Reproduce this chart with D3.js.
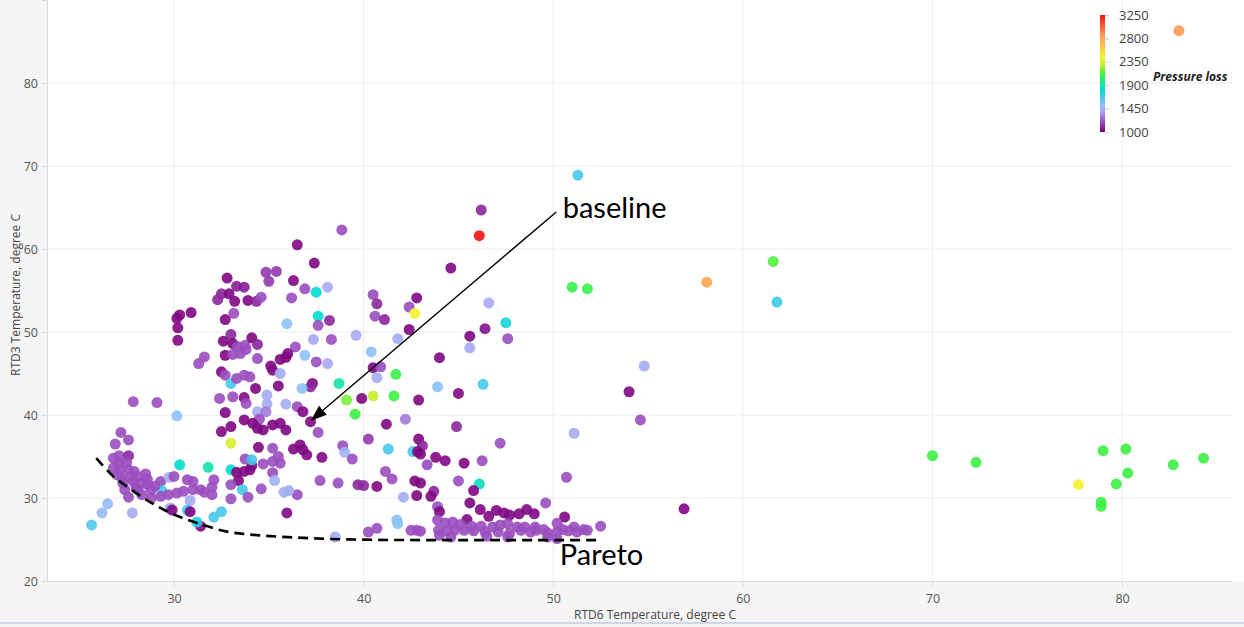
<!DOCTYPE html>
<html><head><meta charset="utf-8">
<script src="https://cdn.jsdelivr.net/npm/d3@7"></script>
<style>html,body{margin:0;padding:0;background:#fff;overflow:hidden}</style>
</head><body><svg id="chart" width="1244" height="627"></svg>
<script>
// ---------- data ----------
const xTicks = [30, 40, 50, 60, 70, 80];
const yTicks = [20, 30, 40, 50, 60, 70, 80];
const colorTicks = [1000, 1450, 1900, 2350, 2800, 3250];
const colorStops = [1000, 1200, 1400, 1520, 1680, 1820, 1950, 2120, 2300, 2450, 2850, 3250];
const colorRange = ["#7b007b", "#9a4ebf", "#a9a8f2", "#8cc2f7", "#45c9ea", "#00dccf", "#22e68f", "#3df042", "#c8f02e", "#f6f032", "#ff9a55", "#ee1515"];
const xTitle = "RTD6 Temperature, degree C";
const yTitle = "RTD3 Temperature, degree C";
const legendTitle = "Pressure loss";

// [RTD6 temperature, RTD3 temperature, pressure loss]
const samples = [
[83.0,86.3,2850],[58.1,56.0,2800],[61.6,58.5,2150],[61.8,53.6,1700],[51.0,55.4,2100],[51.8,55.2,2100],[51.3,68.9,1680],
[46.2,64.7,1100],[46.1,61.6,3250],[44.6,57.7,1020],[38.85,62.3,1200],[36.5,60.5,1020],[37.4,58.3,1020],[54.0,42.8,1020],
[54.6,39.4,1200],[54.8,45.9,1420],[51.1,37.8,1400],[50.7,32.5,1200],[49.6,29.4,1200],[56.9,28.7,1020],[52.5,26.6,1200],
[70.0,35.1,2120],[72.3,34.3,2120],[79.0,35.7,2120],[80.2,35.9,2120],[80.3,33.0,2120],[79.7,31.7,2120],[78.9,29.5,2120],
[78.9,29.0,2120],[82.7,34.0,2120],[84.3,34.8,2120],[77.7,31.6,2450],
[36.9,55.2,1200],[37.5,54.8,1820],[38.1,55.4,1400],[40.5,54.5,1200],[40.7,53.4,1100],[42.8,54.1,1020],[42.4,53.0,1200],
[42.7,52.25,2450],[46.6,53.5,1400],[40.6,51.9,1200],[41.1,51.5,1100],[37.6,51.9,1820],[37.6,50.8,1200],[38.2,51.4,1100],
[47.5,51.1,1780],[42.4,50.3,1020],[46.4,50.4,1050],[45.6,49.5,1020],[47.6,49.2,1200],[45.6,48.1,1400],[37.35,49.1,1400],
[38.3,49.1,1200],[39.6,49.6,1400],[41.8,49.2,1420],[36.9,47.2,1520],[37.5,46.4,1200],[38.1,46.2,1400],[40.4,47.6,1520],
[44.0,46.9,1020],[40.5,45.7,1020],[40.9,45.8,1200],[40.7,44.5,1420],[41.7,44.9,2100],[38.7,43.8,1900],[37.3,43.8,1020],
[37.2,43.4,1100],[43.9,43.4,1520],[46.3,43.7,1680],[45.0,42.6,1020],[36.75,43.2,1520],[40.5,42.3,2300],[41.6,42.3,2120],
[42.9,41.8,1020],[39.9,42.0,1020],[39.1,41.8,2200],[39.55,40.1,2120],[41.2,38.9,1020],[42.2,39.5,1300],[44.9,38.6,1100],
[40.25,37.1,1150],[38.9,36.3,1200],[39.0,35.5,1450],[39.4,34.7,1200],[41.3,35.9,1680],[42.6,35.6,1680],[42.9,37.1,1020],
[43.1,36.3,1100],[42.85,35.6,1020],[43.0,35.3,1020],[47.2,36.6,1200],[43.8,34.9,1020],[44.3,34.5,1020],[43.35,34.0,1200],
[45.3,34.2,1020],[46.25,34.5,1200],[41.15,33.2,1200],[41.5,32.3,1200],[38.65,31.8,1200],[39.7,31.6,1100],[40.0,31.5,1100],
[40.7,31.4,1020],[42.7,32.05,1020],[43.0,31.8,1020],[45.0,32.05,1200],[46.1,31.7,1850],[45.8,30.9,1020],[43.7,30.8,1100],
[43.55,30.2,1020],[42.8,30.3,1020],[42.1,30.1,1420],[45.6,29.4,1020],[43.9,28.95,1200],
[37.6,37.9,1200],[37.2,39.2,1020],[37.8,34.9,1020],[37.0,35.2,1020],[36.65,36.4,1020],[36.8,35.8,1020],[37.7,32.1,1200],
[36.5,30.4,1200],[41.75,27.35,1520],[41.8,26.9,1520],[40.25,25.9,1200],[40.7,26.35,1200],[42.5,26.1,1200],[42.8,26.1,1200],
[43.0,26.0,1200],[38.5,25.3,1420],
[44.0,28.35,1020],[46.15,28.6,1020],[46.6,27.8,1020],[47.0,28.5,1020],[47.4,28.2,1020],[47.7,27.95,1020],[48.2,28.1,1020],
[48.6,28.6,1020],[49.0,28.1,1020],[45.45,27.4,1020],[50.6,27.7,1020],
[43.9,27.35,1200],[44.3,27.0,1200],[44.7,27.1,1200],[45.1,26.8,1200],[45.7,26.6,1200],[46.2,26.6,1200],[46.8,26.5,1200],
[47.2,26.75,1200],[47.6,26.9,1200],[48.1,26.5,1200],[48.5,26.5,1200],[49.05,26.5,1200],[49.5,26.2,1200],[50.2,26.95,1200],
[50.5,26.2,1200],[51.1,26.5,1200],[51.6,26.2,1200],
[43.95,26.1,1200],[44.4,26.05,1200],[44.8,26.1,1200],[45.3,26.1,1200],[45.8,26.05,1200],[46.4,25.9,1200],[47.1,25.9,1200],
[47.7,25.75,1200],[48.3,26.1,1200],[48.8,25.9,1200],[49.1,26.1,1200],[49.7,25.8,1200],[50.2,25.9,1200],[50.8,26.05,1200],
[51.25,25.9,1200],[51.8,26.1,1200],
[44.0,25.5,1200],[44.6,25.3,1200],[46.5,25.4,1200],[47.6,25.3,1200],[49.7,25.3,1200],[50.2,25.1,1200],[35.95,28.2,1020],
[34.85,57.2,1150],[35.4,57.3,1150],[35.0,56.1,1150],[36.3,56.2,1020],[32.8,56.5,1020],[33.3,55.5,1080],[33.7,55.4,1080],
[32.5,54.6,1100],[32.9,54.6,1020],[32.3,53.9,1100],[33.2,53.7,1020],[33.9,53.8,1020],[34.35,53.7,1100],[34.6,54.2,1200],
[33.15,52.25,1200],[32.7,51.5,1020],[30.9,52.35,1020],[30.3,52.05,1020],[30.15,51.65,1020],[30.2,50.5,1020],[30.2,49.0,1020],
[36.2,54.1,1200],[35.95,51.0,1520],[33.0,49.7,1100],[32.6,48.9,1020],[33.1,48.6,1020],[33.35,48.25,1200],[33.75,48.4,1200],
[34.1,49.3,1020],[34.4,48.5,1100],[32.7,47.2,1020],[33.1,47.3,1200],[33.5,47.4,1200],[33.8,47.9,1200],[34.4,46.8,1200],
[31.6,47.0,1200],[31.3,46.2,1200],[36.4,48.2,1200],[36.0,47.4,1020],[35.6,46.7,1020],[35.9,46.95,1020],[35.1,45.9,1020],
[35.2,45.4,1020],[35.6,45.0,1420],[32.5,45.2,1020],[32.7,44.8,1200],[33.0,43.8,1680],[33.3,44.4,1200],[33.7,44.8,1200],
[34.0,44.6,1200],[34.3,43.2,1020],[35.5,43.5,1020],[32.4,42.0,1200],[33.1,42.2,1200],[33.7,42.1,1020],[33.8,41.4,1200],
[34.9,42.4,1420],[34.9,41.3,1420],[35.9,41.3,1420],[36.5,41.0,1200],[32.7,40.3,1020],[34.4,40.4,1420],[34.85,40.4,1300],
[34.5,39.5,1200],[33.7,39.4,1020],[34.15,39.0,1020],[34.4,38.4,1020],[34.7,38.2,1020],[35.2,38.8,1020],[35.6,39.0,1020],
[35.9,38.2,1020],[36.8,40.4,1020],[32.5,38.0,1020],[33.0,38.6,1020],[33.0,36.6,2350],[34.45,36.1,1020],[35.2,36.0,1200],
[36.3,35.9,1020],[31.8,33.7,1880],[33.0,33.4,1830],[33.3,33.1,1020],[33.7,33.2,1020],[34.0,33.4,1020],[34.1,33.9,1020],
[33.75,34.7,1200],[34.1,34.6,1680],[34.7,34.1,1200],[35.2,34.4,1200],[35.5,35.0,1200],[35.6,34.2,1200],[35.2,33.05,1200],
[35.3,32.1,1450],[33.4,32.1,1020],[33.6,31.0,1680],[33.0,31.6,1200],[32.1,32.2,1200],[32.0,31.3,1200],[31.4,31.0,1200],
[31.6,30.7,1200],[31.0,32.0,1200],[33.9,30.1,1200],[33.0,29.9,1200],[34.6,31.1,1200],[35.8,30.7,1420],[36.05,30.9,1420],
[27.85,41.6,1200],[29.1,41.5,1200],[30.15,39.9,1520],[27.2,37.9,1200],[27.6,37.0,1200],[26.9,36.5,1200],[27.1,35.1,1200],
[27.6,35.1,1100],[27.1,34.2,1200],[27.5,34.25,1200],[27.15,33.4,1200],[27.6,33.4,1200],[27.9,33.2,1200],[27.25,32.4,1200],
[27.7,32.5,1200],[28.1,32.6,1200],[28.5,32.9,1200],[27.3,31.8,1200],[27.85,32.0,1200],[28.3,31.8,1200],[28.6,32.25,1200],
[28.0,31.2,1200],[28.8,31.0,1200],[28.6,31.6,1200],[29.3,32.0,1200],[29.75,32.5,1420],[30.0,32.6,1200],[30.7,32.2,1200],
[30.3,34.0,1830],[29.35,30.9,1680],[29.7,30.4,1200],[30.15,30.6,1200],[30.5,30.8,1200],[31.0,31.0,1200],[32.0,30.4,1200],
[29.3,30.2,1200],[28.8,30.0,1200],[28.3,30.4,1200],[27.6,30.1,1200],[27.8,28.2,1420],[26.5,29.3,1480],[26.2,28.2,1480],
[25.65,26.75,1650],[30.85,29.7,1420],[29.8,28.8,1420],[30.7,28.55,1680],[29.9,28.55,1020],[30.85,28.35,1020],[31.4,26.6,1020],
[31.2,27.1,1750],[32.1,27.7,1680],[32.5,28.35,1680],
[26.8,34.8,1200],[26.8,33.6,1200],[27.0,32.8,1200],[27.4,31.0,1200],[28.1,31.0,1200],[29.0,31.45,1200]
];

// annotations (data units)
const baselineArrow = [[50.16, 64.46], [37.25, 39.4]];
const baselineLabel = {text: "baseline", at: [50.5, 63.7]};
const paretoCurve = [[25.9,34.8],[26.8,32.6],[27.5,31.4],[28.6,29.7],[29.8,28.2],[31.2,27.0],[32.8,25.95],[34.5,25.5],[36.3,25.25],[38.9,25.02],[43.0,24.93],[52.5,24.93]];
const paretoLabel = {text: "Pareto", at: [50.35, 21.9]};

// ---------- drawing ----------
const W = 1244, H = 627;
const svg = d3.select("#chart");
const x = d3.scaleLinear().domain([23.3, 85.8]).range([47, 1232]);
const y = d3.scaleLinear().domain([20, 90]).range([581, 0]);
const color = d3.scaleLinear().domain(colorStops).range(colorRange).interpolate(d3.interpolateRgb).clamp(true);
const font = "'Open Sans', 'Noto Sans', sans-serif";

svg.append("rect").attr("width", W).attr("height", H).attr("fill", "#ffffff");
svg.append("rect").attr("x", 0).attr("y", 0).attr("width", 47).attr("height", H).attr("fill", "#f5f5f5");
svg.append("rect").attr("x", 0).attr("y", 581).attr("width", W).attr("height", H - 581).attr("fill", "#f5f5f5");
svg.append("rect").attr("x", 0).attr("y", 622).attr("width", W).attr("height", 2).attr("fill", "#cfd6e6");

// grid
const grid = svg.append("g");
grid.selectAll("line.v").data(xTicks).join("line").attr("class", "v")
  .attr("x1", d => x(d)).attr("x2", d => x(d)).attr("y1", 0).attr("y2", 581)
  .attr("stroke", "#ececec").attr("stroke-width", 1);
grid.selectAll("line.h").data(yTicks.filter(d => d > 20)).join("line").attr("class", "h")
  .attr("x1", 47).attr("x2", 1232).attr("y1", d => y(d)).attr("y2", d => y(d))
  .attr("stroke", "#ececec").attr("stroke-width", 1);

// axes
const xAxis = svg.append("g").attr("transform", "translate(0,581)")
  .call(d3.axisBottom(x).tickValues(xTicks).tickSize(5).tickPadding(8).tickFormat(d3.format("d")));
const yAxis = svg.append("g").attr("transform", "translate(47,0)")
  .call(d3.axisLeft(y).tickValues(yTicks).tickSize(5).tickPadding(4).tickFormat(d3.format("d")));
[xAxis, yAxis].forEach(a => {
  a.select(".domain").attr("stroke", "#d9d9d9");
  a.selectAll(".tick line").attr("stroke", "#d9d9d9");
  a.selectAll(".tick text").attr("fill", "#555").style("font-family", font).style("font-size", "12.5px");
});
xAxis.select(".domain").attr("d", "M47,0.5H1232");

svg.append("text").attr("x", 655).attr("y", 619).attr("text-anchor", "middle")
  .style("font-family", font).style("font-size", "12px").attr("fill", "#444").text(xTitle);
svg.append("text").attr("transform", "translate(20,295) rotate(-90)").attr("text-anchor", "middle")
  .style("font-family", font).style("font-size", "12px").attr("fill", "#444").text(yTitle);

// points
svg.append("g").selectAll("circle").data(samples).join("circle")
  .attr("cx", d => x(d[0])).attr("cy", d => y(d[1])).attr("r", 5.5)
  .attr("fill", d => color(d[2])).attr("fill-opacity", 0.9);

// annotations
const defs = svg.append("defs");
defs.append("marker").attr("id", "arrow").attr("markerUnits", "userSpaceOnUse")
  .attr("viewBox", "0 0 16 12").attr("refX", 15).attr("refY", 6)
  .attr("markerWidth", 16).attr("markerHeight", 12).attr("orient", "auto")
  .append("path").attr("d", "M0,0 L16,6 L0,12 Z").attr("fill", "#000");
svg.append("line")
  .attr("x1", x(baselineArrow[0][0])).attr("y1", y(baselineArrow[0][1]))
  .attr("x2", x(baselineArrow[1][0])).attr("y2", y(baselineArrow[1][1]))
  .attr("stroke", "#000").attr("stroke-width", 1.4).attr("marker-end", "url(#arrow)");
svg.append("text").attr("x", x(baselineLabel.at[0])).attr("y", y(baselineLabel.at[1]))
  .style("font-family", "Lato, 'Open Sans', sans-serif").style("font-size", "29px").attr("fill", "#000").text(baselineLabel.text);
svg.append("path").datum(paretoCurve)
  .attr("d", d3.line().x(d => x(d[0])).y(d => y(d[1])).curve(d3.curveMonotoneX))
  .attr("fill", "none").attr("stroke", "#000").attr("stroke-width", 2.6).attr("stroke-dasharray", "10,6");
svg.append("text").attr("x", x(paretoLabel.at[0])).attr("y", y(paretoLabel.at[1]))
  .style("font-family", "Lato, 'Open Sans', sans-serif").style("font-size", "29px").attr("fill", "#000").text(paretoLabel.text);

// colour legend
const cy = d3.scaleLinear().domain([1000, 3250]).range([132, 15]);
const grad = defs.append("linearGradient").attr("id", "cbar").attr("x1", 0).attr("y1", 1).attr("x2", 0).attr("y2", 0);
colorStops.forEach(v => grad.append("stop").attr("offset", (v - 1000) / 2250).attr("stop-color", color(v)));
svg.append("rect").attr("x", 1100).attr("y", cy(3250)).attr("width", 5).attr("height", cy(1000) - cy(3250)).attr("fill", "url(#cbar)");
const lg = svg.append("g").attr("transform", "translate(1105,0)")
  .call(d3.axisRight(cy).tickValues(colorTicks).tickSize(4).tickPadding(10).tickFormat(d3.format("d")));
lg.select(".domain").remove();
lg.selectAll(".tick line").attr("stroke", "#ccc");
lg.selectAll(".tick text").attr("fill", "#444").style("font-family", font).style("font-size", "13px");
svg.append("text").attr("x", 1153).attr("y", 81)
  .style("font-family", font).style("font-size", "12px").style("font-weight", "bold").style("font-style", "italic")
  .attr("fill", "#222").text(legendTitle);
</script></body></html>
